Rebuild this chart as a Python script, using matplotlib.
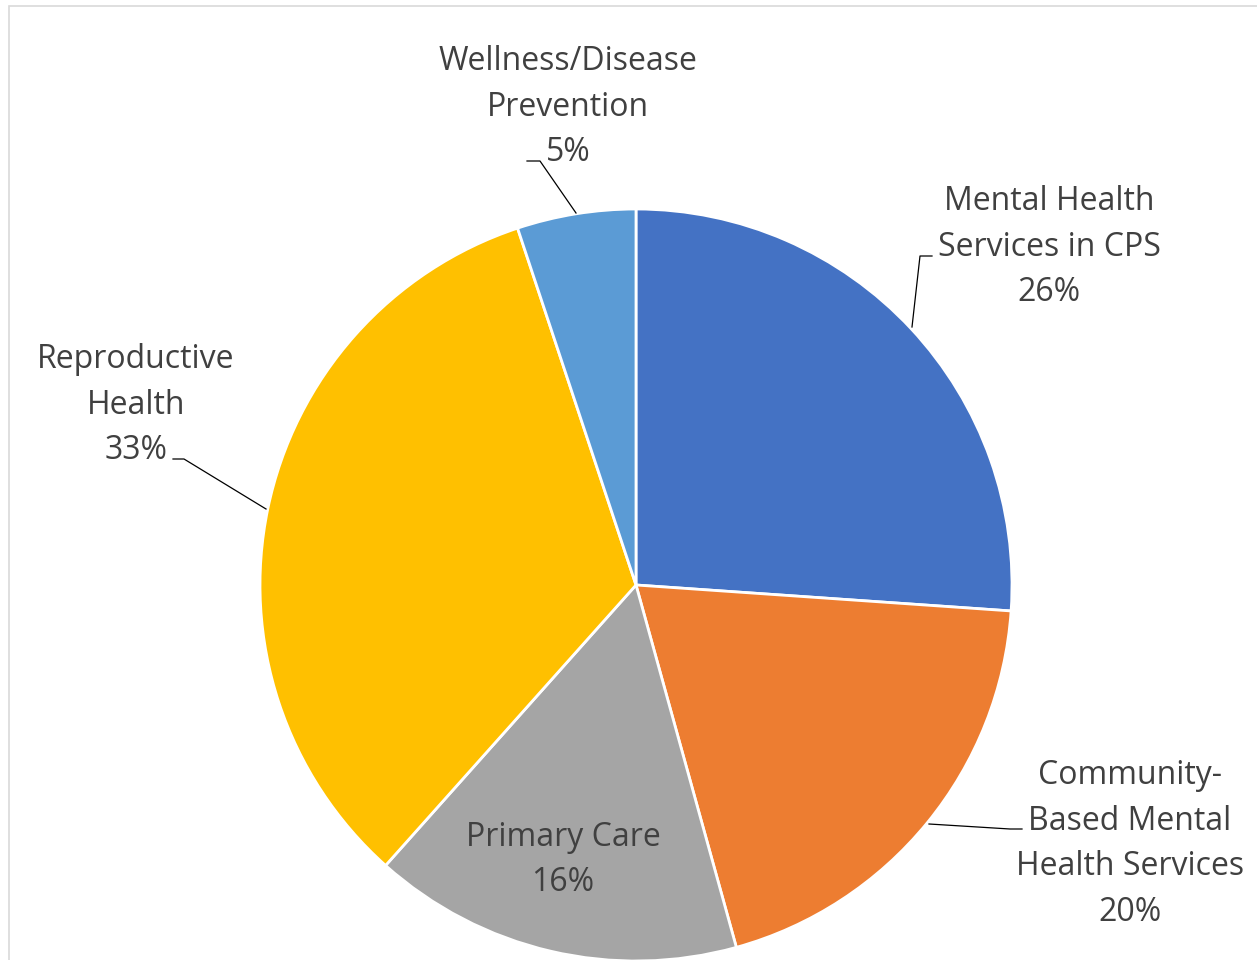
import matplotlib.pyplot as plt
from matplotlib.patches import Rectangle

# data
labels = ['Mental Health\nServices in CPS', 'Community-\nBased Mental\nHealth Services',
          'Primary Care', 'Reproductive\nHealth', 'Wellness/Disease\nPrevention']
shares = [26.1, 19.6, 15.9, 33.3, 5.1]
colors = ['#4472C4', '#ED7D31', '#A5A5A5', '#FFC000', '#5B9BD5']

W, H = 1257, 960
fig = plt.figure(figsize=(W / 100, H / 100), dpi=100)
ax = fig.add_axes([0, 0, 1, 1])

cx, cy, r = 636, H - 585, 376
ax.pie(shares, colors=colors, startangle=90, counterclock=False,
       center=(cx, cy), radius=r, frame=True,
       wedgeprops=dict(edgecolor='white', linewidth=2))
ax.set_xlim(0, W)
ax.set_ylim(0, H)
ax.set_aspect('equal')
ax.axis('off')

txt = dict(ha='center', va='center', fontsize=23, color='#404040',
           family='Open Sans', linespacing=1.5)

# label positions (image px, y downwards)
pos = [(1049, 247), (1130, 844), (563, 860), (136, 405), (568, 107)]
for lab, s, (x, y) in zip(labels, shares, pos):
    ax.text(x, H - y, f'{lab}\n{round(s)}%', **txt)

# leader lines
leaders = [
    [(932, 256), (920, 256), (912, 327)],
    [(1022, 829), (1010, 829), (929, 824)],
    [(173, 459), (184, 459), (266, 509)],
    [(527, 161), (540, 161), (576, 213)],
]
for pts in leaders:
    xs = [p[0] for p in pts]
    ys = [H - p[1] for p in pts]
    ax.plot(xs, ys, color='black', lw=0.9)

# chart area border (only left/top visible)
fig.add_artist(Rectangle((8.5 / W, -0.1), 1.2, (H - 5.5) / H + 0.1,
                         transform=fig.transFigure, fill=False,
                         edgecolor='#D9D9D9', lw=1.2))

fig.savefig('out.png', dpi=100)
